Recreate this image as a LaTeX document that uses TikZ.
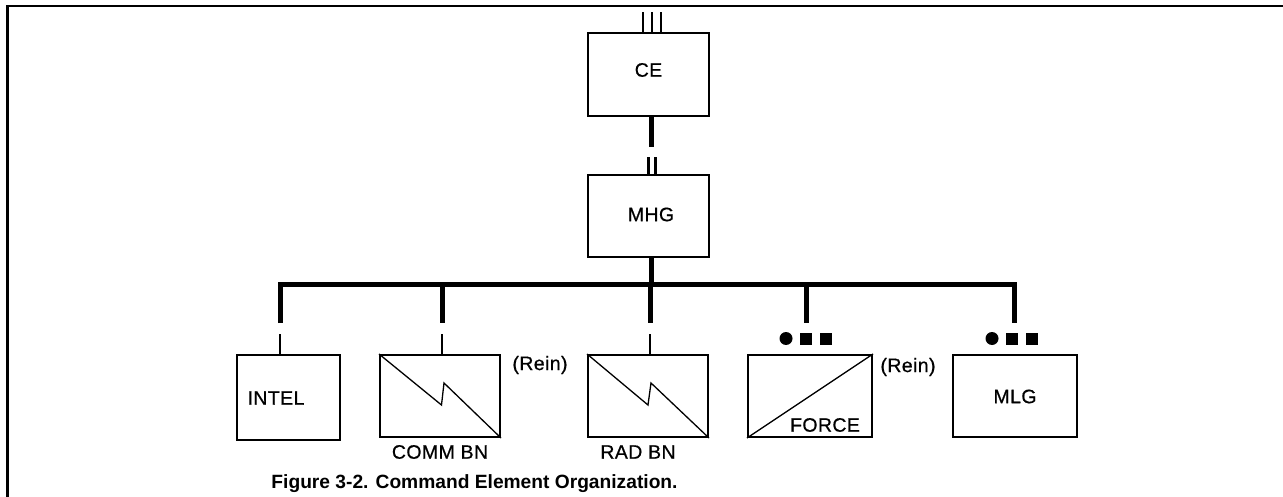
\documentclass[tikz,border=0pt]{standalone}
\usepackage{fontspec}
\setmainfont{Liberation Sans}
\newfontfamily\lblfont[LetterSpace=2,FakeBold=0.6]{Liberation Sans}
\newfontfamily\capfont{Liberation Sans}
\begin{document}
\begin{tikzpicture}[x=1pt,y=-1pt,
  unitbox/.style={draw,line width=2pt,rectangle,inner sep=0pt},
  lbl/.style={inner sep=0pt,font=\lblfont\fontsize{19.5}{21}\selectfont},
  bus/.style={line width=5pt,line join=miter},
  stub/.style={line width=2.3pt},
  zig/.style={line width=1.3pt,line join=miter},
  dotm/.style={fill=black,draw=none}]
\useasboundingbox (0,0) rectangle (1283,497);
% frame
\draw[line width=2.5pt] (7.5,497) -- (7.5,6) -- (1283,6);

% unit boxes
\node[unitbox,minimum width=121,minimum height=83] (ce) at (648.5,74.5) {};
\node[unitbox,minimum width=121,minimum height=82] (mhg) at (648.5,216) {};
\node[unitbox,minimum width=103,minimum height=85] (intel) at (288.5,397.5) {};
\node[unitbox,minimum width=120,minimum height=82] (comm) at (440,396) {};
\node[unitbox,minimum width=120,minimum height=82] (rad) at (648,396) {};
\node[unitbox,minimum width=124,minimum height=82] (force) at (810,396) {};
\node[unitbox,minimum width=124,minimum height=82] (mlg) at (1015,396) {};

% labels
\node[lbl] (tce) at (648.5,70) {CE};
\node[lbl] (tmhg) at (651,214.5) {MHG};
\node[lbl] (tintel) at (276,398) {INTEL};
\node[lbl] (tmlg) at (1015,396.5) {MLG};
\node[lbl] (tcomm) at (440,452) {COMM BN};
\node[lbl] (trad) at (638,452) {RAD BN};
\node[lbl] (tforce) at (825,425) {FORCE};
\node[lbl] (rein1) at (540,365) {(Rein)};
\node[lbl] (rein2) at (908,367) {(Rein)};

% trunk line position
\coordinate (tx) at (651,0);

% echelon marks above CE (III)
\foreach \dx in {-8,1,10}
  \draw[stub] ([xshift=\dx pt]tx |- ce.north) -- ++(0,-20);

% CE to MHG
\coordinate (t1) at (651,147);
\draw[bus] (tx |- ce.south) -- (t1);
\foreach \dx in {-2.5,4.5}
  \draw[stub] ([xshift=\dx pt]tx |- mhg.north) -- ++(0,-17);

% MHG to subordinate units
\coordinate (busL) at (280,285);
\coordinate (busR) at (1014.5,285);
\draw[bus] (tx |- mhg.south) -- (tx |- busL);
\draw[bus] (280,323) -- (busL) -- (busR) -- (1014.5,323);
\foreach \x in {442,650,806}
  \draw[bus] (\x,285) -- (\x,323);

% company-level stubs
\draw[stub] (intel.north -| busL) -- ++(0,-20);
\draw[stub] (comm.north -| 442,0) -- ++(0,-20);
\draw[stub] (rad.north -| 650,0) -- ++(0,-20);

% echelon marks (circle + two squares)
\foreach \cx in {786,992} {
  \fill[dotm] (\cx,338.5) circle (6.5pt);
  \fill[dotm] (\cx+14,332.5) rectangle ++(12,12);
  \fill[dotm] (\cx+34,332.5) rectangle ++(12,12);
}

% signal symbols
\draw[zig] (comm.north west) -- (441.5,405) -- (444,383) -- (comm.south east);
\draw[zig] (rad.north west) -- (648,405) -- (651,383) -- (rad.south east);
% maneuver symbol
\draw[zig] (force.south west) -- (force.north east);

% caption
\node[inner sep=0pt,font=\capfont\bfseries\fontsize{19.2}{22}\selectfont] (cap) at (474.5,484) {Figure 3-2. Command Element Organization.};
\end{tikzpicture}
\end{document}
